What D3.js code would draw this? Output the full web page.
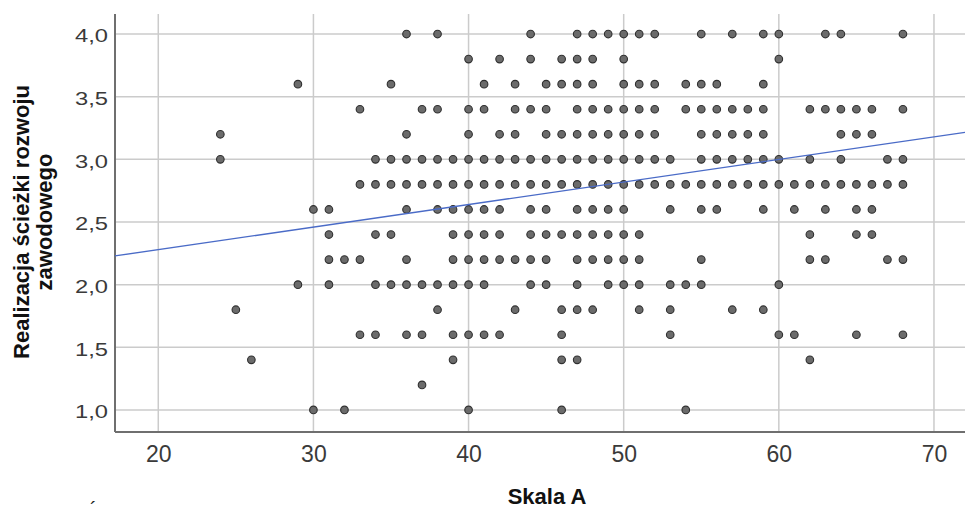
<!DOCTYPE html>
<html>
<head>
<meta charset="utf-8">
<script src="https://cdn.jsdelivr.net/npm/d3@7"></script>
<style>
  body { margin: 0; background: #fff; }
  svg { display: block; font-family: "Liberation Sans", Arial, sans-serif; }
</style>
</head>
<body>
<div id="chart"></div>
<script>
// values: one row per y level, x scores listed per row
const xTicks = [20, 30, 40, 50, 60, 70];
const yTicks = [1.0, 1.5, 2.0, 2.5, 3.0, 3.5, 4.0];
const rowLevels = [4.0, 3.8, 3.6, 3.4, 3.2, 3.0, 2.8, 2.6, 2.4, 2.2, 2.0, 1.8, 1.6, 1.4, 1.2, 1.0];
const rowScores = [
  [36, 38, 44, 47, 48, 49, 50, 51, 52, 55, 57, 59, 60, 63, 64, 68],
  [40, 42, 44, 46, 47, 48, 50, 60],
  [29, 35, 41, 43, 45, 46, 47, 48, 50, 51, 52, 54, 55, 56, 59],
  [33, 37, 38, 40, 41, 43, 44, 45, 47, 48, 49, 50, 51, 52, 54, 55, 56, 57, 58, 59, 62, 63, 64, 65, 66, 68],
  [24, 36, 40, 42, 43, 45, 46, 47, 48, 49, 50, 51, 52, 55, 56, 57, 58, 59, 64, 65, 66],
  [24, 34, 35, 36, 37, 38, 39, 40, 41, 42, 43, 44, 45, 46, 47, 48, 49, 50, 51, 52, 53, 55, 56, 57, 58, 59, 60, 62, 64, 67, 68],
  [33, 34, 35, 36, 37, 38, 39, 40, 41, 42, 43, 44, 45, 46, 47, 48, 49, 50, 51, 52, 53, 54, 55, 56, 57, 58, 59, 60, 61, 62, 63, 64, 65, 66, 67, 68],
  [30, 31, 36, 38, 39, 40, 41, 42, 44, 45, 47, 48, 49, 50, 53, 55, 56, 59, 61, 63, 65, 66],
  [31, 34, 35, 39, 40, 41, 42, 44, 45, 46, 47, 48, 49, 50, 51, 62, 65, 66],
  [31, 32, 33, 36, 39, 40, 41, 42, 43, 44, 45, 47, 48, 49, 50, 51, 55, 62, 63, 67, 68],
  [29, 31, 34, 35, 36, 37, 38, 39, 40, 41, 44, 45, 47, 49, 50, 51, 53, 54, 55, 60],
  [25, 38, 43, 46, 47, 48, 51, 53, 57, 59],
  [33, 34, 36, 37, 39, 40, 41, 42, 46, 53, 60, 61, 65, 68],
  [26, 39, 46, 47, 62],
  [37],
  [30, 32, 40, 46, 54]
];
// fitted line
const fitIntercept = 1.919;
const fitSlope = 0.01801;

const xLabel = "Skala A";
const yLabelLines = ["Realizacja ścieżki rozwoju", "zawodowego"];

const points = [];
rowLevels.forEach((lvl, i) => rowScores[i].forEach(s => points.push([s, lvl])));

const w = 965, h = 508;
const pLeft = 115, pRight = 965, pTop = 14, pBottom = 432;

const x = d3.scaleLinear().domain([17.21, 72.0]).range([pLeft, pRight]);
const y = d3.scaleLinear().domain([0.824, 4.16]).range([pBottom, pTop]);

const svg = d3.select('#chart').append('svg')
  .attr('width', w).attr('height', h)
  .style('background-color', '#fff');

// grid
svg.append('g').selectAll('line').data(xTicks).enter().append('line')
  .attr('x1', d => x(d)).attr('x2', d => x(d))
  .attr('y1', pTop).attr('y2', pBottom)
  .attr('stroke', '#cbcbcb').attr('stroke-width', 1.5);
svg.append('g').selectAll('line').data(yTicks).enter().append('line')
  .attr('x1', pLeft).attr('x2', pRight)
  .attr('y1', d => y(d)).attr('y2', d => y(d))
  .attr('stroke', '#cbcbcb').attr('stroke-width', 1.5);

const fmt = d => d3.format('.1f')(d).replace('.', ',');

// axes
const yAxis = d3.axisLeft(y).tickValues(yTicks).tickFormat(fmt).tickSize(0).tickPadding(7);
const gy = svg.append('g').attr('transform', `translate(${pLeft},0)`).call(yAxis);
gy.select('.domain').remove();
gy.selectAll('text')
  .attr('font-size', '18.5px').attr('font-family', '"Liberation Sans", Arial, sans-serif')
  .attr('fill', '#3a3a3a').attr('dy', '0.42em')
  .attr('textLength', 33).attr('lengthAdjust', 'spacingAndGlyphs');

const xAxis = d3.axisBottom(x).tickValues(xTicks).tickSize(0).tickPadding(14);
const gx = svg.append('g').attr('transform', `translate(0,${pBottom})`).call(xAxis);
gx.select('.domain').remove();
gx.selectAll('text')
  .attr('font-size', '23px').attr('font-family', '"Liberation Sans", Arial, sans-serif')
  .attr('fill', '#3a3a3a');

svg.append('line').attr('x1', pLeft).attr('x2', pLeft).attr('y1', pTop).attr('y2', pBottom)
  .attr('stroke', '#6f6f6f').attr('stroke-width', 2);
svg.append('line').attr('x1', pLeft).attr('x2', pRight).attr('y1', pBottom).attr('y2', pBottom)
  .attr('stroke', '#6f6f6f').attr('stroke-width', 2);

// points
svg.append('g').selectAll('circle').data(points).enter().append('circle')
  .attr('cx', d => x(d[0])).attr('cy', d => y(d[1])).attr('r', 3.8)
  .attr('fill', '#6b6b6b').attr('stroke', '#2f2f2f').attr('stroke-width', 1.1);

// fit line
const xd = x.domain();
svg.append('line')
  .attr('x1', x(xd[0])).attr('y1', y(fitIntercept + fitSlope * xd[0]))
  .attr('x2', x(xd[1])).attr('y2', y(fitIntercept + fitSlope * xd[1]))
  .attr('stroke', '#4a6bc7').attr('stroke-width', 1.3);

// titles
svg.append('text').attr('x', 547).attr('y', 504).attr('text-anchor', 'middle')
  .attr('font-size', '22px').attr('font-weight', 'bold').attr('fill', '#111')
  .text(xLabel);

svg.selectAll('.ytitle').data(yLabelLines).enter().append('text')
  .attr('class', 'ytitle')
  .attr('transform', (d, i) => `translate(${28.5 + i * 23},222) rotate(-90)`)
  .attr('text-anchor', 'middle')
  .attr('font-size', '22px').attr('font-weight', 'bold').attr('fill', '#111')
  .text(d => d);

// stray accent at the bottom edge of the source image
svg.append('text').attr('x', 90).attr('y', 516).attr('font-size', '20px').attr('fill', '#222').text('´');
</script>
</body>
</html>
